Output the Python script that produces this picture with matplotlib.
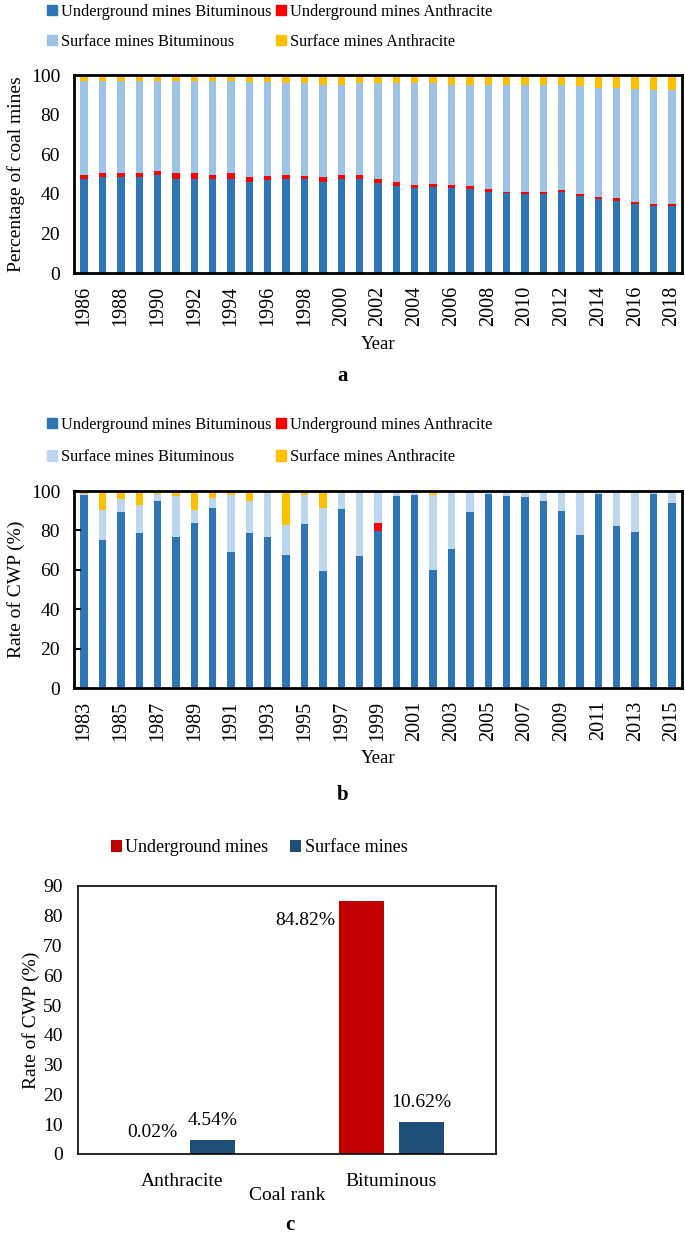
import numpy as np
import matplotlib
matplotlib.use("Agg")
import matplotlib.pyplot as plt
from matplotlib.patches import Patch

plt.rcParams['font.family'] = ['Liberation Serif', 'DejaVu Serif']
plt.rcParams['font.size'] = 13

# ---- panel a: share of coal mines by type (%) ----
years_a = list(range(1986, 2019))
ub_a = [47.4, 48.4, 48.4, 48.4, 49.4, 47.7, 47.7, 47.4, 47.7, 46.2, 46.9,
        47.4, 47.4, 46.2, 47.4, 47.7, 45.4, 44.0, 42.9, 43.4, 42.9, 42.4,
        40.8, 40.2, 40.0, 40.0, 40.7, 38.7, 37.6, 36.6, 34.6, 33.8, 33.8]
ua_a = [2.2, 1.9, 2.2, 2.2, 2.2, 2.6, 2.6, 2.3, 2.6, 2.4, 2.3, 2.3, 1.8,
        2.4, 2.3, 1.7, 2.0, 1.9, 1.6, 1.6, 1.3, 1.5, 1.4, 0.8, 1.0, 1.0,
        1.0, 1.3, 0.9, 1.4, 1.4, 1.3, 1.3]
sb_a = [47.5, 46.8, 46.5, 46.5, 45.5, 46.8, 46.8, 47.1, 46.5, 47.9, 47.3,
        46.4, 46.6, 46.5, 45.4, 46.4, 48.7, 50.2, 51.3, 50.8, 50.9, 51.2,
        52.9, 54.1, 53.8, 53.8, 53.1, 54.5, 54.9, 55.4, 56.8, 57.3, 57.3]
sa_a = [2.9, 2.9, 2.9, 2.9, 2.9, 2.9, 2.9, 3.2, 3.2, 3.5, 3.5, 3.9, 4.2,
        4.9, 4.9, 4.2, 3.9, 3.9, 4.2, 4.2, 4.9, 4.9, 4.9, 4.9, 5.2, 5.2,
        5.2, 5.5, 6.6, 6.6, 7.2, 7.6, 7.6]

# ---- panel b: rate of CWP by mine type (%) ----
years_b = list(range(1983, 2016))
ub_b = [97.8, 75.0, 89.4, 78.9, 94.8, 76.4, 83.8, 91.4, 69.0, 78.9, 76.7,
        67.6, 83.3, 59.5, 91.1, 66.8, 79.9, 97.6, 98.1, 59.9, 70.8, 89.4,
        98.3, 97.5, 97.1, 95.1, 90.1, 77.9, 98.3, 82.3, 79.3, 98.3, 93.9]
ua_b = [0, 0, 0, 0, 0, 0, 0, 0, 0, 0, 0, 0, 0, 0, 0, 0, 4.1, 0, 0, 0, 0,
        0, 0, 0, 0, 0, 0, 0, 0, 0, 0, 0, 0]
sb_b = [0.5, 15.2, 6.4, 13.8, 3.9, 20.9, 6.8, 5.2, 28.8, 15.9, 22.6, 14.9,
        14.5, 31.9, 8.9, 33.2, 16.0, 2.4, 1.9, 37.9, 29.2, 10.6, 1.7, 2.5,
        2.9, 4.9, 9.9, 22.1, 1.7, 17.7, 20.7, 1.7, 6.1]
sa_b = [1.7, 9.8, 4.2, 7.3, 1.3, 2.7, 9.4, 3.4, 2.2, 5.2, 0.7, 17.5, 2.2,
        8.6, 0, 0, 0, 0, 0, 2.2, 0, 0, 0, 0, 0, 0, 0, 0, 0, 0, 0, 0, 0]

# ---- panel c: CWP by coal rank ----
ranks = ['Anthracite', 'Bituminous']
cwp_under = [0.02, 84.82]
cwp_surface = [4.54, 10.62]

names = ['Underground mines Bituminous', 'Underground mines Anthracite',
         'Surface mines Bituminous', 'Surface mines Anthracite']
c_ub = '#2E75B6'
c_ua = '#FF0000'
c_sa = '#FFC000'

fig = plt.figure(figsize=(6.85, 12.36), dpi=100)


def stacked(ax, years, ub, ua, sb, sa, c_sb):
    x = np.arange(len(years))
    ub = np.array(ub); ua = np.array(ua); sb = np.array(sb); sa = np.array(sa)
    w = 0.4
    ax.bar(x, ub, w, color=c_ub)
    ax.bar(x, ua, w, bottom=ub, color=c_ua)
    ax.bar(x, sb, w, bottom=ub + ua, color=c_sb)
    ax.bar(x, sa, w, bottom=ub + ua + sb, color=c_sa)
    ax.set_xlim(-0.55, len(years) - 0.45)
    ax.set_ylim(0, 100)
    ax.set_yticks(range(0, 101, 20))
    ax.set_xticks(x[::2])
    ax.set_xticklabels([str(y) for y in years[::2]], rotation=90)
    ax.tick_params(axis='x', length=0, pad=9, labelsize=14.5)
    ax.tick_params(axis='y', labelsize=14)
    for s in ax.spines.values():
        s.set_linewidth(2)
    ax.set_xlabel('Year', labelpad=7, fontsize=13.5)
    handles = [Patch(color=c_ub), Patch(color=c_sb), Patch(color=c_ua), Patch(color=c_sa)]
    labs = [names[0], names[2], names[1], names[3]]
    return handles, labs


def put_legend(handles, labs, y, spacing):
    fig.legend(handles, labs, ncol=2, loc='upper left',
               bbox_to_anchor=(47 / 685, 1 - y / 1236), frameon=False,
               handlelength=0.6, handleheight=0.6, handletextpad=0.25,
               columnspacing=0.3, borderaxespad=0, borderpad=0,
               labelspacing=spacing, fontsize=11.8)


# panel a
ax1 = fig.add_axes([74 / 685, 1 - 273 / 1236, 608 / 685, 198 / 1236])
h, l = stacked(ax1, years_a, ub_a, ua_a, sb_a, sa_a, '#9DC3E6')
ax1.tick_params(axis='y', length=0, pad=10)
ax1.set_ylabel('Percentage of coal mines', fontsize=14)
ax1.yaxis.set_label_coords(-0.081, 0.5)
put_legend(h, l, 4, 0.85)
fig.text(343 / 685, 1 - 376 / 1236, 'a', ha='center', va='center',
         fontsize=15, fontweight='bold')

# panel b
ax2 = fig.add_axes([74 / 685, 1 - 688 / 1236, 608 / 685, 197 / 1236])
h, l = stacked(ax2, years_b, ub_b, ua_b, sb_b, sa_b, '#BDD7EE')
ax2.tick_params(axis='y', direction='in', length=5, width=1.5, pad=10)
ax2.set_ylabel('Rate of CWP (%)', fontsize=14)
ax2.yaxis.set_label_coords(-0.081, 0.5)
put_legend(h, l, 417, 1.0)
fig.text(343 / 685, 1 - 795 / 1236, 'b', ha='center', va='center',
         fontsize=15, fontweight='bold')

# panel c
ax3 = fig.add_axes([78 / 685, 1 - 1154 / 1236, 418 / 685, 268 / 1236])
xc = np.arange(len(ranks))
bw = 0.22
off = 0.1435
b1 = ax3.bar(xc - off, cwp_under, bw, color='#C00000', label='Underground mines')
b2 = ax3.bar(xc + off, cwp_surface, bw, color='#1F4E79', label='Surface mines')
ax3.set_xlim(-0.5, 1.5)
ax3.set_ylim(0, 90)
ax3.set_yticks(range(0, 91, 10))
ax3.set_xticks(xc)
ax3.set_xticklabels(ranks)
ax3.tick_params(length=0, labelsize=14)
ax3.tick_params(axis='x', pad=14)
ax3.tick_params(axis='y', pad=11)
for s in ax3.spines.values():
    s.set_linewidth(1.2)
ax3.set_ylabel('Rate of CWP (%)', fontsize=14)
ax3.yaxis.set_label_coords(-0.092, 0.5)
ax3.text(0.5, -0.155, 'Coal rank', transform=ax3.transAxes, ha='center',
         va='center', fontsize=14)

label_offsets = {(0, 0): (0, 21), (0, 1): (0, 20), (1, 0): (-56, -19), (1, 1): (0, 20)}
for j, vals in enumerate([cwp_under, cwp_surface]):
    for i, v in enumerate(vals):
        xo = xc[i] + (off if j == 1 else -off)
        dx, dy = label_offsets[(i, j)]
        ax3.annotate('%.2f%%' % v, (xo, v), xytext=(dx, dy),
                     textcoords='offset pixels', ha='center', va='center',
                     fontsize=14)

fig.legend([b1, b2], ['Underground mines', 'Surface mines'], ncol=2,
           loc='center left', bbox_to_anchor=(111 / 685, 1 - 848 / 1236),
           frameon=False, handlelength=0.6, handleheight=0.6,
           handletextpad=0.2, columnspacing=1.2, borderaxespad=0,
           borderpad=0, fontsize=13)
fig.text(290 / 685, 1 - 1225 / 1236, 'c', ha='center', va='center',
         fontsize=15, fontweight='bold')

fig.savefig('out.png', dpi=100)
